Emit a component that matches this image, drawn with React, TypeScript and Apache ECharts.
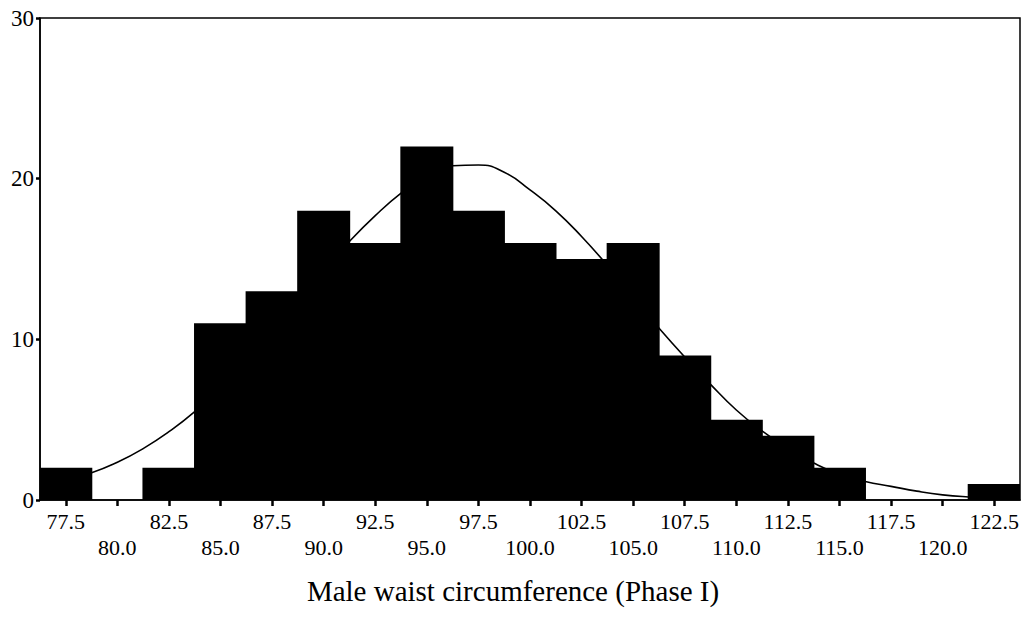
import React, { useEffect, useRef } from "react";
import * as echarts from "echarts";

const binLabels = ["77.5", "80.0", "82.5", "85.0", "87.5", "90.0", "92.5", "95.0", "97.5", "100.0", "102.5", "105.0", "107.5", "110.0", "112.5", "115.0", "117.5", "120.0", "122.5"];
const counts = [2, 0, 2, 11, 13, 18, 16, 22, 18, 16, 15, 16, 9, 5, 4, 2, 0, 0, 1];

// normal curve
const curveX = [76.25, 77.5, 78.75, 80.0, 81.25, 82.5, 83.75, 85.0, 86.25, 87.5, 88.75, 90.0, 91.25, 92.5, 93.75, 95.0, 96.25, 97.5, 98.75, 100.0, 101.25, 102.5, 103.75, 105.0, 106.25, 107.5, 108.75, 110.0, 111.25, 112.5, 113.75, 115.0, 116.25, 117.5, 118.75, 120.0, 121.25, 122.5, 123.75];
const curveY = [0.95, 1.3, 1.7, 2.35, 3.2, 4.25, 5.5, 7.0, 8.7, 10.5, 12.4, 14.3, 16.1, 17.7, 19.1, 20.2, 20.8, 20.85, 20.4, 19.3, 18.0, 16.4, 14.6, 12.6, 10.7, 8.9, 7.2, 5.6, 4.3, 3.2, 2.3, 1.6, 1.15, 0.85, 0.55, 0.32, 0.19, 0.12, 0.07];

const yTicks = [0, 10, 20, 30];
const xTitle = "Male waist circumference (Phase I)";

const FONT = "'Liberation Serif', 'Times New Roman', serif";

export default function App() {
  const ref = useRef<HTMLDivElement>(null);
  useEffect(() => {
    if (!ref.current) return;
    const chart = echarts.init(ref.current, null, { renderer: "svg" });
    chart.setOption({
      animation: false,
      backgroundColor: "#ffffff",
      grid: {
        left: 40,
        right: 4,
        top: 18,
        bottom: 119,
        show: true,
        borderColor: "#000",
        borderWidth: 1.5,
        backgroundColor: "transparent",
      },
      xAxis: [
        {
          type: "category",
          data: binLabels,
          boundaryGap: true,
          axisLine: { show: true, lineStyle: { color: "#000", width: 1.5 } },
          axisTick: { show: true, alignWithLabel: true, length: 6, lineStyle: { color: "#000", width: 2.5 } },
          axisLabel: {
            interval: 0,
            color: "#000",
            fontFamily: FONT,
            fontSize: 22,
            lineHeight: 26,
            margin: 8,
            formatter: (v: string, i: number) => (i % 2 === 1 ? "\n" + v : v),
          },
          name: xTitle,
          nameLocation: "middle",
          nameGap: 76,
          nameTextStyle: { color: "#000", fontFamily: FONT, fontSize: 29, padding: [0, 34, 0, 0] },
          splitLine: { show: false },
        },
        {
          type: "value",
          min: 76.25,
          max: 123.75,
          show: false,
          splitLine: { show: false },
        },
      ],
      yAxis: {
        type: "value",
        min: 0,
        max: 30,
        interval: 10,
        axisLine: { show: true, lineStyle: { color: "#000", width: 1.5 } },
        axisTick: { show: true, length: 4, lineStyle: { color: "#000", width: 2.5 } },
        axisLabel: {
          color: "#000",
          fontFamily: FONT,
          fontSize: 23,
          margin: 6,
          formatter: (v: number) => (yTicks.includes(v) ? String(v) : ""),
        },
        splitLine: { show: false },
      },
      series: [
        {
          type: "bar",
          data: counts,
          xAxisIndex: 0,
          barWidth: 53,
          barGap: "0%",
          itemStyle: { color: "#000" },
          z: 2,
        },
        {
          type: "line",
          xAxisIndex: 1,
          data: curveX.map((x, i) => [x, curveY[i]]),
          smooth: true,
          showSymbol: false,
          symbol: "none",
          lineStyle: { color: "#000", width: 1.6 },
          z: 3,
        },
      ],
    });
    return () => chart.dispose();
  }, []);
  return (
    <div
      ref={ref}
      style={{ position: "fixed", left: 0, top: 0, width: 1024, height: 619, background: "#fff" }}
    />
  );
}
